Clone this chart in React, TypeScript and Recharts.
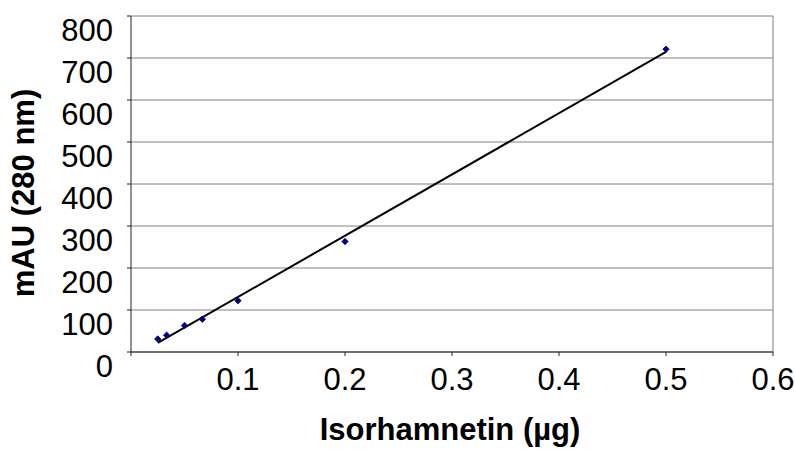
import React from 'react';
import {
  ComposedChart,
  Scatter,
  XAxis,
  YAxis,
  CartesianGrid,
  ReferenceLine,
  Label,
} from 'recharts';

// Isorhamnetin amount (µg)
const amounts = [0.025, 0.0333, 0.05, 0.0667, 0.1, 0.2, 0.5];
// Peak area, mAU (280 nm)
const responses = [31, 40, 63, 78, 122, 263, 721];
const xTicks = [0, 0.1, 0.2, 0.3, 0.4, 0.5, 0.6];
const yTicks = [0, 100, 200, 300, 400, 500, 600, 700, 800];
const xTitle = 'Isorhamnetin (µg)';
const yTitle = 'mAU (280 nm)';

const points = amounts.map((x, i) => ({ x, y: responses[i] }));

// least-squares trendline from the data points (as Excel's linear trendline)
const n = amounts.length;
const mx = amounts.reduce((a, b) => a + b, 0) / n;
const my = responses.reduce((a, b) => a + b, 0) / n;
let sxy = 0;
let sxx = 0;
for (let i = 0; i < n; i++) {
  sxy += (amounts[i] - mx) * (responses[i] - my);
  sxx += (amounts[i] - mx) * (amounts[i] - mx);
}
const slope = sxy / sxx;
const intercept = my - slope * mx;
const xMin = Math.min(...amounts);
const xMax = Math.max(...amounts);
const trend = [
  { x: xMin, y: intercept + slope * xMin },
  { x: xMax, y: intercept + slope * xMax },
];

const FONT = '"Liberation Sans", Arial, sans-serif';

const Diamond = (props: any) => {
  const { cx, cy } = props;
  const r = 3.2;
  return (
    <path
      d={`M${cx},${cy - r}L${cx + r},${cy}L${cx},${cy + r}L${cx - r},${cy}Z`}
      fill="#000080"
      stroke="#000080"
      strokeWidth={0.8}
    />
  );
};

const YTick = (props: any) => {
  const { x, y, payload } = props;
  return (
    <text
      x={x}
      y={y + 24.5}
      textAnchor="end"
      fontFamily={FONT}
      fontSize={31}
      fill="#000"
    >
      {payload.value}
    </text>
  );
};

const XTick = (props: any) => {
  const { x, y, payload } = props;
  if (payload.value === 0) return <g />;
  return (
    <text
      x={x}
      y={y + 20}
      textAnchor="middle"
      fontFamily={FONT}
      fontSize={31}
      fill="#000"
    >
      {Number(payload.value).toFixed(1)}
    </text>
  );
};

export default function App() {
  return (
    <div style={{ position: 'absolute', left: 0, top: 0, background: '#fff' }}>
      <ComposedChart
        width={795}
        height={453}
        margin={{ top: 16, right: 22, bottom: 0, left: 0 }}
      >
        <CartesianGrid
          horizontal
          vertical={false}
          stroke="#808080"
          strokeWidth={1}
        />
        <XAxis
          type="number"
          dataKey="x"
          domain={[0, 0.6]}
          ticks={xTicks}
          interval={0}
          allowDataOverflow
          height={101}
          tickSize={4}
          tickMargin={14}
          axisLine={{ stroke: '#222', strokeWidth: 1 }}
          tickLine={{ stroke: '#222', strokeWidth: 1 }}
          tick={<XTick />}
        >
          <Label
            content={(p: any) => {
              const vb = p.viewBox || {};
              return (
                <text
                  x={vb.x + vb.width / 2 - 2}
                  y={vb.y + 88}
                  textAnchor="middle"
                  fontFamily={FONT}
                  fontSize={31}
                  fontWeight="bold"
                  fill="#000"
                >
                  {xTitle}
                </text>
              );
            }}
          />
        </XAxis>
        <YAxis
          type="number"
          dataKey="y"
          domain={[0, 800]}
          ticks={yTicks}
          interval={0}
          allowDataOverflow
          width={131}
          tickSize={4}
          tickMargin={14}
          axisLine={{ stroke: '#222', strokeWidth: 1 }}
          tickLine={{ stroke: '#222', strokeWidth: 1 }}
          tick={<YTick />}
        >
          <Label
            content={(p: any) => {
              const vb = p.viewBox || {};
              const cx = 34;
              const cy = vb.y + vb.height / 2 + 9;
              return (
                <text
                  x={cx}
                  y={cy}
                  transform={`rotate(-90, ${cx}, ${cy})`}
                  textAnchor="middle"
                  fontFamily={FONT}
                  fontSize={31}
                  fontWeight="bold"
                  fill="#000"
                >
                  {yTitle}
                </text>
              );
            }}
          />
        </YAxis>
        <ReferenceLine x={0.6} stroke="#808080" strokeWidth={1} />
        <ReferenceLine
          segment={trend}
          stroke="#000"
          strokeWidth={2}
          ifOverflow="visible"
        />
        <Scatter
          data={points}
          dataKey="y"
          shape={<Diamond />}
          isAnimationActive={false}
        />
      </ComposedChart>
    </div>
  );
}
